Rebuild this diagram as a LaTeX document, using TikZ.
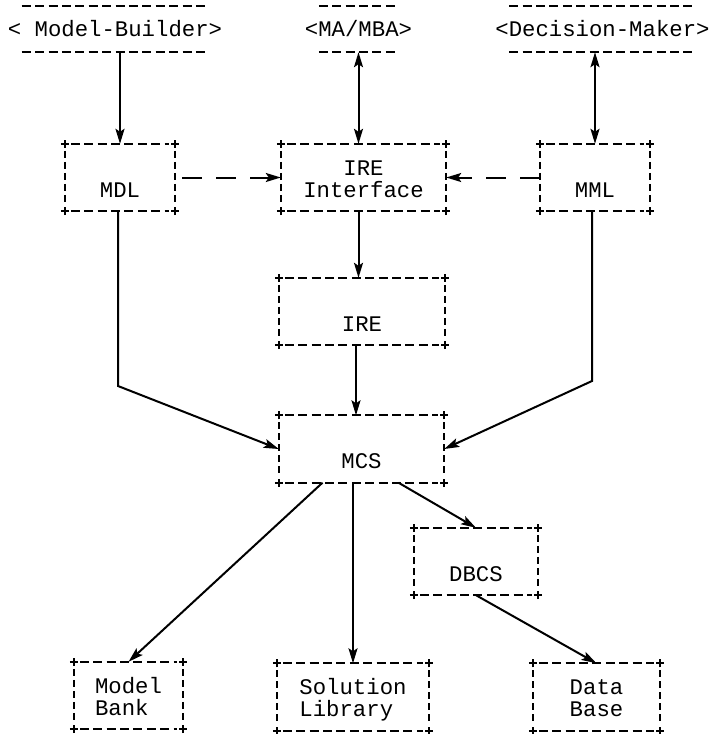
\documentclass[tikz,border=0pt]{standalone}
\usepackage{fontspec}
\newfontfamily\monoF{Liberation Mono}
\usetikzlibrary{arrows.meta}
\begin{document}
\begin{tikzpicture}[x=1pt,y=-1pt,
  txt/.style={font=\monoF\fontsize{22.3}{22}\selectfont},
  actor/.style={txt, inner sep=0pt, minimum height=46pt},
  box/.style={txt, inner sep=0pt, minimum height=67pt, align=center},
  tip/.tip={Stealth[length=15pt,width=9pt,inset=3pt]},
  arr/.style={line width=2pt, -tip},
  darr/.style={line width=2pt, tip-tip},
  dasharr/.style={arr, dash pattern=on 20pt off 14pt},
  hdash/.style={line width=1.8pt, dash pattern=on 9pt off 4.4pt},
  hborder/.style={hdash, shorten <=6pt, shorten >=6pt},
  vborder/.style={line width=1.8pt, dash pattern=on 7pt off 4pt, shorten <=7pt, shorten >=7pt},
  plusmark/.style={line width=1.8pt}
]
\useasboundingbox (0,0) rectangle (712,734);

% actors
\node[actor] (mb) at (115,29) {< Model-Builder>};
\node[actor] (ma) at (358.5,29) {<MA/MBA>};
\node[actor] (dm) at (602.5,29) {<Decision-Maker>};
\foreach \n in {mb,ma,dm}{
  \draw[hdash] ([xshift=14pt]\n.north west) -- ([xshift=-14pt]\n.north east);
  \draw[hdash] ([xshift=14pt]\n.south west) -- ([xshift=-14pt]\n.south east);
}

% boxes
\node[box, minimum width=110pt] (mdl) at (120,177.5) {\rule{0pt}{24pt}\\MDL\strut};
\node[box, minimum width=165pt] (iface) at (363.5,177.5) {\rule{0pt}{24pt}IRE\\Interface\strut};
\node[box, minimum width=110pt] (mml) at (595,177.5) {\rule{0pt}{24pt}\\MML\strut};
\node[box, minimum width=166pt] (ire) at (362,311.5) {\rule{0pt}{24pt}\\IRE\strut};
\node[box, minimum width=165pt] (mcs) at (361.5,449) {\rule{0pt}{24pt}\\MCS\strut};
\node[box, minimum width=124pt] (dbcs) at (476,561.5) {\rule{0pt}{24pt}\\DBCS\strut};
\node[box, align=left, minimum width=109pt] (mbank) at (128.5,695.5) {\rule{0pt}{24pt}Model\\Bank\strut};
\node[box, align=left, minimum width=152pt] (slib) at (353,697) {\rule{0pt}{24pt}Solution\\Library\strut};
\node[box, minimum width=127pt] (dbase) at (596.5,697) {\rule{0pt}{24pt}Data\\Base\strut};

\foreach \n in {mdl,iface,mml,ire,mcs,dbcs,mbank,slib,dbase}{
  \draw[hborder] (\n.north west) -- (\n.north east);
  \draw[hborder] (\n.south west) -- (\n.south east);
  \draw[vborder] (\n.north west) -- (\n.south west);
  \draw[vborder] (\n.north east) -- (\n.south east);
  \foreach \a in {north west,north east,south west,south east}{
    \draw[plusmark] ([xshift=-4pt]\n.\a) -- ([xshift=4pt]\n.\a)
                    ([yshift=-4pt]\n.\a) -- ([yshift=4pt]\n.\a);
  }
}

% connectors
\coordinate (lbend) at (118,386);
\coordinate (rbend) at (592,381);
\draw[arr] (mdl.north |- mb.south) -- (mdl.north);
\draw[darr] (ma.south) -- (ma.south |- iface.north);
\draw[darr] (mml.north |- dm.south) -- (mml.north);
\draw[dasharr, shorten <=7pt] (mdl.east) -- (iface.west);
\draw[dasharr] (mml.west) -- (iface.east);
\draw[arr] ([xshift=-5pt]iface.south) -- ([xshift=-5pt]iface.south |- ire.north);
\draw[arr] ([xshift=-6pt]ire.south) -- ([xshift=-6pt]ire.south |- mcs.north);
\draw[arr] ([xshift=-2pt]mdl.south) -- ([xshift=-2pt]mdl.south |- lbend) -- (mcs.west);
\draw[arr] ([xshift=-3pt]mml.south) -- ([xshift=-3pt]mml.south |- rbend) -- (mcs.east);
\draw[arr] ([xshift=-39pt]mcs.south) -- (mbank.north);
\draw[arr] (slib.north |- mcs.south) -- (slib.north);
\draw[arr] ([xshift=37pt]mcs.south) -- (dbcs.north);
\draw[arr] (dbcs.south) -- (dbase.north);
\end{tikzpicture}
\end{document}
